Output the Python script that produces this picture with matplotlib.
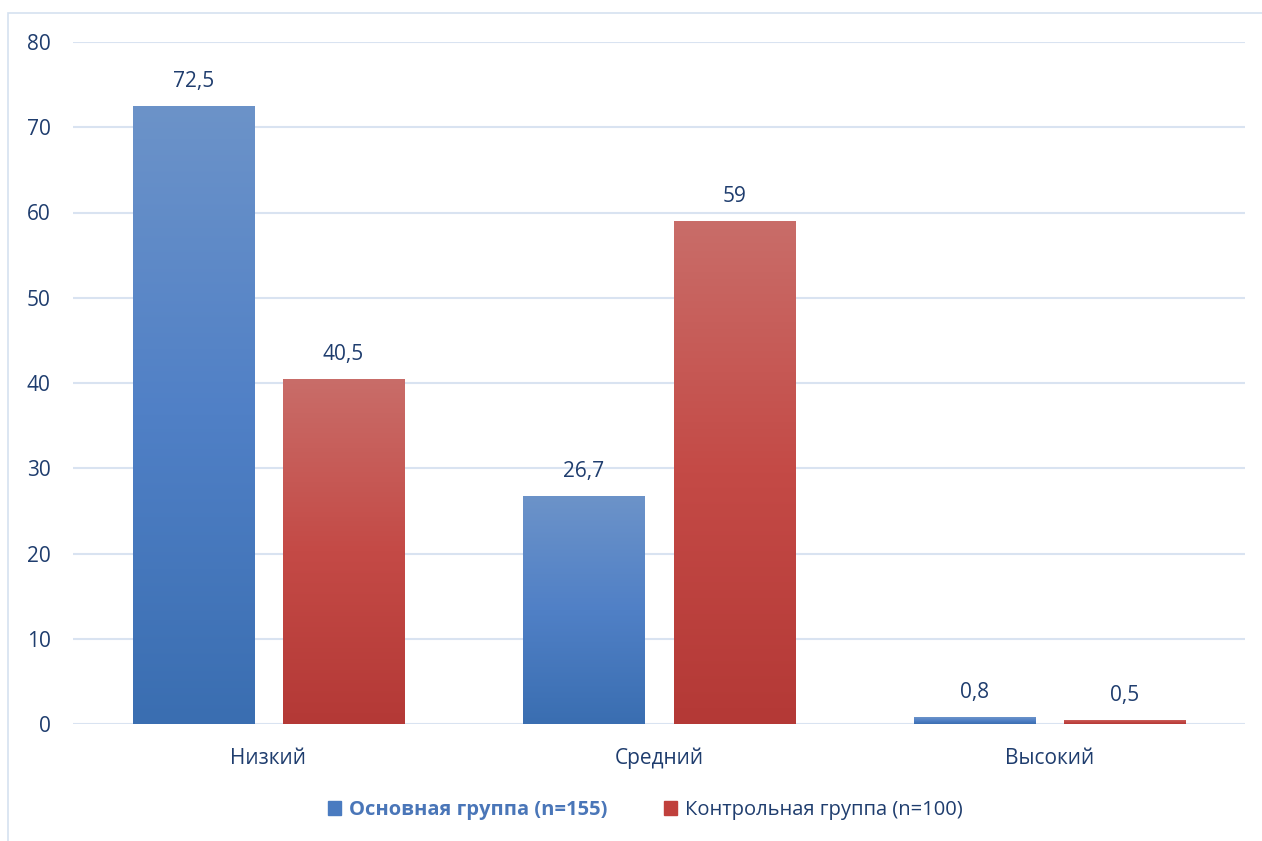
import numpy as np
import matplotlib
matplotlib.use("Agg")
import matplotlib.pyplot as plt
from matplotlib.colors import LinearSegmentedColormap
from matplotlib.patches import Rectangle

categories = ["Низкий", "Средний", "Высокий"]
main_group = [72.5, 26.7, 0.8]
control_group = [40.5, 59, 0.5]
main_labels = ["72,5", "26,7", "0,8"]
control_labels = ["40,5", "59", "0,5"]
series_names = ["Основная группа (n=155)", "Контрольная группа (n=100)"]
y_ticks = [0, 10, 20, 30, 40, 50, 60, 70, 80]

plt.rcParams["font.family"] = ["Open Sans", "DejaVu Sans"]
text_color = "#1f3d6e"
grid_color = "#d9e3f1"

blue_cmap = LinearSegmentedColormap.from_list("blue", ["#3a6eb1", "#5080c6", "#6c93c9"])
red_cmap = LinearSegmentedColormap.from_list("red", ["#b43936", "#c44a46", "#c96d69"])

fig = plt.figure(figsize=(12.62, 8.41), dpi=100)
ax = fig.add_axes([73 / 1262, 117 / 841, (1245 - 73) / 1262, (724 - 42) / 841])

# chart border
fig.patches.append(Rectangle((8 / 1262, -0.01), 1.1, (841 - 13) / 841 + 0.01,
                             transform=fig.transFigure, fill=False,
                             edgecolor="#d5e1f0", linewidth=1.2))

x = np.arange(len(categories))
width = 0.31
gap = 0.075
offset = (width + gap) / 2

grad = np.linspace(0, 1, 256).reshape(-1, 1)


def gradient_bars(xs, values, cmap):
    bars = ax.bar(xs, values, width=width, color="none", edgecolor="none", zorder=3)
    for b in bars:
        x0, y0 = b.get_x(), b.get_y()
        w, h = b.get_width(), b.get_height()
        im = ax.imshow(grad, cmap=cmap, origin="lower", aspect="auto",
                       extent=(x0, x0 + w, y0, y0 + h), zorder=3)
        im.set_clip_path(b)
    return bars


bars_main = gradient_bars(x - offset, main_group, blue_cmap)
bars_ctrl = gradient_bars(x + offset, control_group, red_cmap)
ax.set_xlim(-0.5, len(categories) - 0.5)
ax.set_ylim(0, 80)

for bars, labels in ((bars_main, main_labels), (bars_ctrl, control_labels)):
    for b, lab in zip(bars, labels):
        ax.annotate(lab, (b.get_x() + b.get_width() / 2, b.get_height()),
                    xytext=(0, 10), textcoords="offset points",
                    ha="center", va="bottom", fontsize=15, color=text_color)

ax.set_yticks(y_ticks)
ax.yaxis.grid(True, color=grid_color, linewidth=1.5, zorder=0)
ax.set_axisbelow(True)
ax.set_xticks(x)
ax.set_xticklabels(categories)
ax.tick_params(axis="y", length=0, pad=16, labelsize=15, labelcolor=text_color)
ax.tick_params(axis="x", length=0, pad=17, labelsize=15, labelcolor=text_color)
for s in ax.spines.values():
    s.set_visible(False)

# legend
handles = [Rectangle((0, 0), 1, 1, color="#4a7bc0"), Rectangle((0, 0), 1, 1, color="#c0403c")]
leg = fig.legend(handles, series_names, loc="center", bbox_to_anchor=(645 / 1262, 1 - 810 / 841),
                 ncol=2, frameon=False, fontsize=14.5, handlelength=0.65, handleheight=0.65,
                 handletextpad=0.4, columnspacing=2.8)
texts = leg.get_texts()
texts[0].set_color("#4a76b8")
texts[0].set_fontweight("bold")
texts[1].set_color(text_color)

fig.savefig("out.png", dpi=100, facecolor="white")
